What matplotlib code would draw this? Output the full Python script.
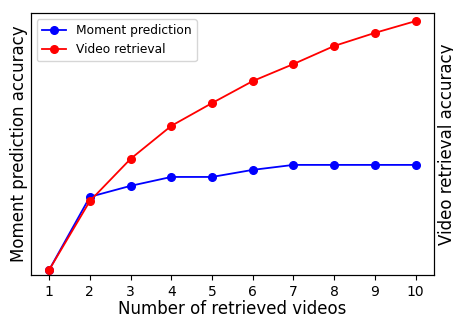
import matplotlib
matplotlib.use('Agg')
import matplotlib.pyplot as plt

num_videos = [1, 2, 3, 4, 5, 6, 7, 8, 9, 10]
moment_acc = [1.9, 29.8, 34.0, 37.4, 37.4, 40.1, 42.0, 42.0, 42.0, 42.0]
video_acc = [1.9, 28.2, 44.3, 56.9, 65.6, 74.0, 80.5, 87.4, 92.4, 96.9]

fig = plt.figure(figsize=(4.53, 3.16), dpi=100)
ax1 = fig.add_axes([0.068, 0.130, 0.890, 0.829])
ax2 = ax1.twinx()

l1, = ax1.plot(num_videos, moment_acc, 'o-', color='blue', markersize=5.5, linewidth=1.3, label='Moment prediction')
l2, = ax2.plot(num_videos, video_acc, 'o-', color='red', markersize=5.5, linewidth=1.3, label='Video retrieval')

ax1.set_ylim(0, 100)
ax2.set_ylim(0, 100)
ax1.set_xticks(num_videos)
ax1.set_yticks([])
ax2.set_yticks([])
ax1.tick_params(axis='x', labelsize=10)

ax1.set_xlabel('Number of retrieved videos', fontsize=12, labelpad=1)
ax1.set_ylabel('Moment prediction accuracy', fontsize=12, labelpad=2)
ax2.set_ylabel('Video retrieval accuracy', fontsize=12, labelpad=3)

ax1.legend([l1, l2], ['Moment prediction', 'Video retrieval'], loc='upper left', fontsize=8.8)

fig.savefig('out.png', dpi=100)
